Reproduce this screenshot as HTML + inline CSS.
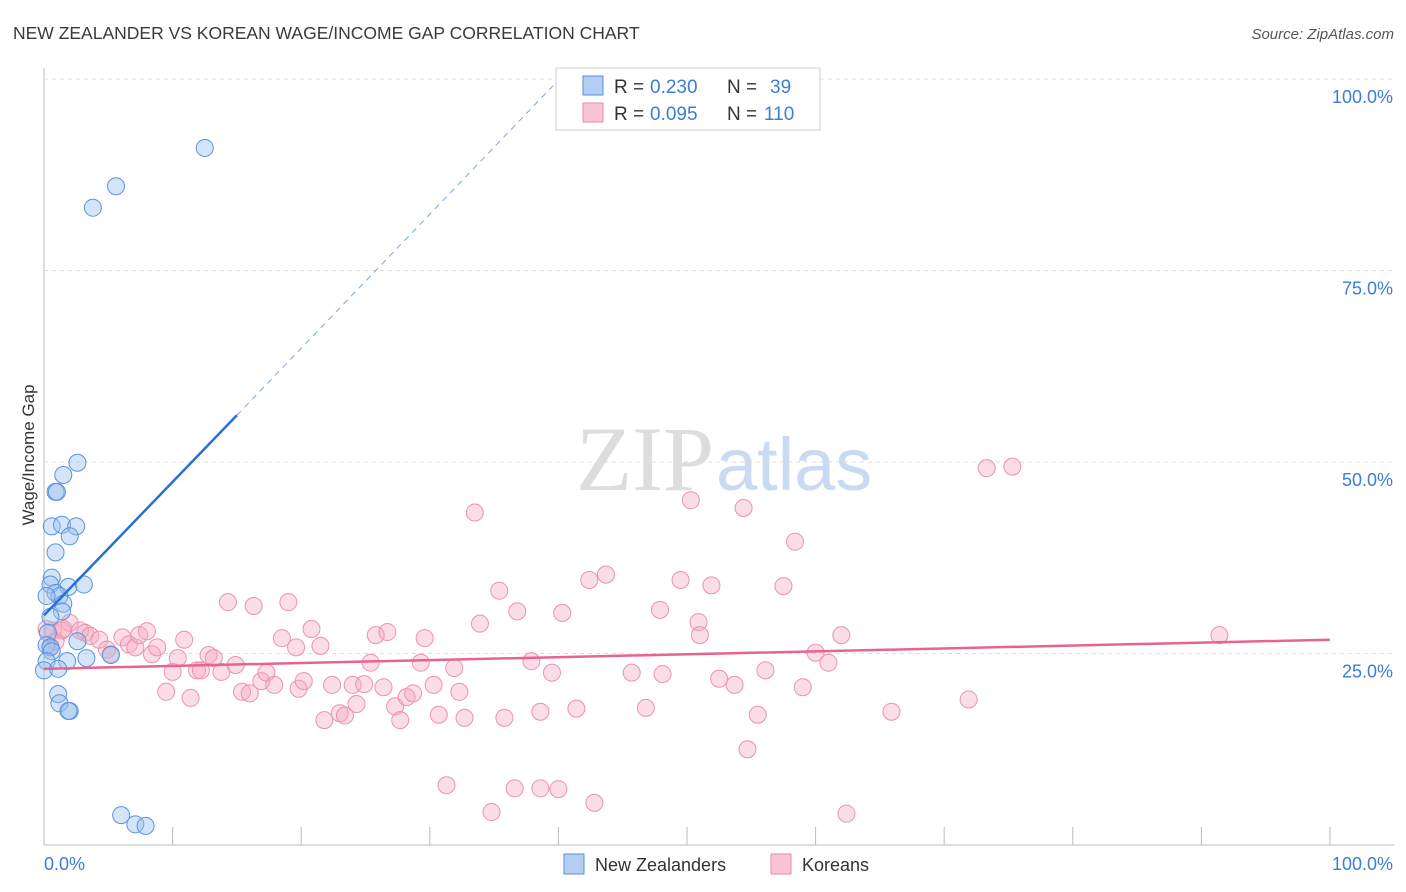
<!DOCTYPE html>
<html><head><meta charset="utf-8"><style>
body{margin:0;background:#fff;font-family:"Liberation Sans",sans-serif}
svg{display:block}
</style></head><body>
<svg id="c" width="1406" height="892" xmlns="http://www.w3.org/2000/svg">
<text x="13" y="39" font-size="17.5" fill="#3a3a3a">NEW ZEALANDER VS KOREAN WAGE/INCOME GAP CORRELATION CHART</text>
<text x="1394" y="39" font-size="15" fill="#555" font-style="italic" text-anchor="end">Source: ZipAtlas.com</text>
<text x="714" y="490" font-size="92" fill="#ddd" text-anchor="end" font-family="Liberation Serif,serif">ZIP</text>
<text x="716" y="490" font-size="74" fill="#c8dbf3">atlas</text>
<text x="34" y="455" font-size="17" fill="#333" transform="rotate(-90 34 455)" text-anchor="middle">Wage/Income Gap</text>
<g id="grid"></g><g id="pts"></g><g id="lines"></g>
<g>
<rect x="556" y="68" width="264" height="62" fill="#fff" stroke="#ccc"/>
<rect x="583" y="76" width="20" height="19" fill="#b3cdf3" stroke="#5b8fd9"/>
<rect x="583" y="103" width="20" height="19" fill="#f9c5d3" stroke="#e88aa6"/>
<text x="614" y="93" font-size="19" fill="#333">R =</text><text x="650" y="93" font-size="19" fill="#3b7dd8">0.230</text>
<text x="727" y="93" font-size="19" fill="#333">N =</text><text x="770" y="93" font-size="19" fill="#3b7dd8">39</text>
<text x="614" y="120" font-size="19" fill="#333">R =</text><text x="650" y="120" font-size="19" fill="#3b7dd8">0.095</text>
<text x="727" y="120" font-size="19" fill="#333">N =</text><text x="764" y="120" font-size="19" fill="#3b7dd8">110</text>
</g>
<g>
<rect x="564" y="854" width="20" height="20" fill="#b3cdf3" stroke="#5b8fd9"/>
<text x="595" y="871" font-size="18" fill="#333">New Zealanders</text>
<rect x="771" y="854" width="20" height="20" fill="#f9c5d3" stroke="#e88aa6"/>
<text x="802" y="871" font-size="18" fill="#333">Koreans</text>
</g>
</svg>
<script>
const yTicks=[25,50,75,100];
const xTickCount=10;
const nzX=[12.5,5.6,3.8,2.6,1.5,0.9,1.0,0.6,1.4,2.5,2.0,0.9,0.6,0.5,1.9,3.1,0.9,1.2,0.2,1.5,1.4,0.5,0.3,0.2,0.5,0.6,2.6,0.2,1.8,3.3,5.2,0,1.1,1.1,1.2,2.0,1.9,6.0,7.1,7.9];
const nzY=[91.0,86.0,83.2,49.9,48.3,46.1,46.1,41.6,41.8,41.6,40.3,38.2,34.9,34.0,33.7,34.0,32.9,32.5,32.5,31.5,30.5,29.8,27.7,26.1,25.8,25.3,26.6,24.0,24.0,24.4,24.8,22.8,23.0,19.7,18.5,17.5,17.5,3.9,2.7,2.5];
const krX=[0.7,1.4,2.0,2.8,3.2,3.6,4.3,4.9,5.2,6.1,6.6,7.1,7.4,8.0,8.4,8.8,9.5,10.0,10.4,10.9,11.4,11.9,12.2,12.8,13.2,13.8,14.3,14.9,15.4,16.0,16.3,16.9,17.3,17.9,18.5,19.0,19.6,19.8,20.2,20.8,21.5,21.8,22.4,23.0,23.4,24.0,24.3,24.9,25.4,25.8,26.4,26.7,27.3,27.7,28.2,28.7,29.3,29.6,30.3,30.7,31.3,31.9,32.3,32.7,33.5,33.9,34.8,35.4,35.8,36.6,36.8,37.9,38.6,38.6,39.5,40.0,40.3,41.4,42.4,42.8,43.7,45.7,46.8,47.9,48.1,49.5,50.3,50.9,51.0,51.9,52.5,53.7,54.4,54.7,55.5,56.1,57.5,58.4,59.0,60.0,61.0,62.0,62.4,65.9,71.9,73.3,75.3,91.4,0.2,0.5,0.9,1.5];
const krY=[28.0,28.0,29.0,28.0,27.7,27.3,26.8,25.5,24.9,27.1,26.2,25.8,27.4,27.9,24.9,25.8,20.0,22.6,24.4,26.8,19.2,22.8,22.8,24.8,24.4,22.6,31.7,23.5,20.0,19.8,31.2,21.4,22.5,20.9,27.0,31.7,25.8,20.4,21.4,28.2,26.0,16.3,20.9,17.2,16.9,20.9,18.4,21.0,23.8,27.4,20.6,27.8,18.1,16.3,19.3,19.8,23.8,27.0,20.9,17.0,7.8,23.1,20.0,16.6,43.4,28.9,4.3,33.2,16.6,7.4,30.5,24.0,17.4,7.4,22.5,7.3,30.3,17.8,34.6,5.5,35.3,22.5,17.9,30.7,22.3,34.6,45.0,29.1,27.4,33.9,21.7,20.9,44.0,12.5,17.0,22.8,33.8,39.6,20.6,25.1,23.8,27.4,4.1,17.4,19.0,49.2,49.4,27.4,28.2,25.9,26.6,28.2];
const X0=44,X1=1330,Y0=845,Y1=79;
const sx=v=>X0+(X1-X0)*v/100, sy=v=>Y0-(Y0-Y1)*v/100;
const NS="http://www.w3.org/2000/svg";
function mk(t,a,p){const e=document.createElementNS(NS,t);for(const k in a)e.setAttribute(k,a[k]);p.appendChild(e);return e;}
const g=document.getElementById('grid');
let ax=mk('line',{x1:X0,y1:68,x2:X0,y2:Y0,stroke:'#bbb'},g);


let bx=mk('line',{x1:X0,y1:Y0,x2:1394,y2:Y0,stroke:'#bbb'},g);


yTicks.forEach(v=>{
 let l=mk('line',{x1:X0,y1:sy(v),x2:1394,y2:sy(v),stroke:'#ddd','stroke-dasharray':'4 4'},g);
 
 
 let t=mk('text',{x:1393,y:sy(v)+24,'font-size':18,fill:'#3b7dd8','text-anchor':'end'},g);
 t.textContent=v.toFixed(1)+'%';
 
 
});
for(let i=1;i<=xTickCount;i++){
 let l=mk('line',{x1:sx(i*10),y1:Y0-18,x2:sx(i*10),y2:Y0,stroke:'#bbb'},g);
 
 
}
let t0=mk('text',{x:44,y:870,'font-size':18,fill:'#3b7dd8'},g);t0.textContent='0.0%';


let t1=mk('text',{x:1393,y:870,'font-size':18,fill:'#3b7dd8','text-anchor':'end'},g);t1.textContent='100.0%';


const P=document.getElementById('pts');
krX.forEach((x,i)=>{let c=mk('circle',{cx:sx(x),cy:sy(krY[i]),r:8.5,fill:'rgba(246,170,192,0.4)',stroke:'#eb93ad','stroke-width':1},P);
 
 });
nzX.forEach((x,i)=>{let c=mk('circle',{cx:sx(x),cy:sy(nzY[i]),r:8.5,fill:'rgba(150,190,240,0.4)',stroke:'#5b93dc','stroke-width':1},P);
 
 });
const L=document.getElementById('lines');
let a=mk('line',{x1:sx(0),y1:sy(30),x2:sx(15),y2:sy(56.1),stroke:'#2a6fd6','stroke-width':2.5},L);


let b=mk('line',{x1:sx(15),y1:sy(56.1),x2:sx(39.8),y2:sy(99.5),stroke:'#7aa7e3','stroke-width':1,'stroke-dasharray':'6 5'},L);


let k=mk('line',{x1:sx(0),y1:sy(23),x2:sx(100),y2:sy(26.8),stroke:'#e8648f','stroke-width':2.5},L);


</script>
</body></html>
